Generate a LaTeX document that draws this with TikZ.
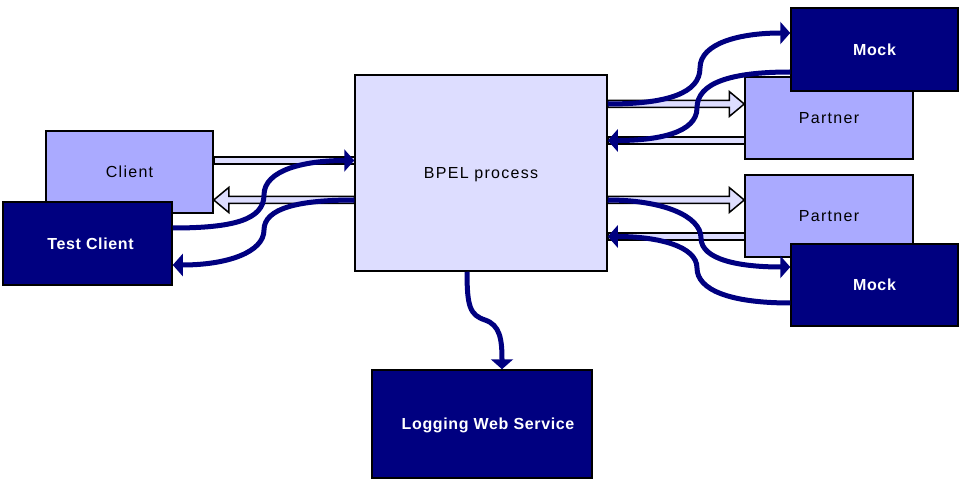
\documentclass[tikz,border=0pt]{standalone}
\usepackage{fontspec}
\setmainfont{Liberation Sans}[LetterSpace=8]
\usetikzlibrary{arrows.meta,calc}
\definecolor{navyblue}{HTML}{000080}
\definecolor{lilac}{HTML}{AAAAFF}
\definecolor{lavender}{HTML}{DDDDFF}
\tikzset{
  box/.style={draw=black, line width=1.5pt, inner sep=0pt, text height=11.5pt, text depth=0pt,
    font=\fontsize{16}{19}\selectfont},
  light/.style={box, fill=lilac},
  dark/.style={box, fill=navyblue, text=white,
    font=\fontsize{16}{19}\selectfont\bfseries\addfontfeatures{LetterSpace=4}},
  hollow/.style={draw=black, line width=1.5pt, fill=lavender},
  call/.style={draw=navyblue, line width=5pt, -{Triangle[length=10pt,width=22pt]}},
}
\newcommand\hollowarrow[2]{%
  \draw[hollow] let \p1=#1, \p2=#2, \n1={sign(\x2-\x1)} in
    ({\x1},{\y1+3.5pt}) -- ({\x2-15pt*\n1},{\y1+3.5pt}) -- ({\x2-15pt*\n1},{\y1+12.5pt})
    -- ({\x2},{\y1}) -- ({\x2-15pt*\n1},{\y1-12.5pt}) -- ({\x2-15pt*\n1},{\y1-3.5pt})
    -- ({\x1},{\y1-3.5pt}) -- cycle;}
\newcommand\hollowshaft[2]{%
  \draw[hollow] let \p1=#1, \p2=#2 in
    ({\x1},{\y1-3.5pt}) rectangle ({\x2},{\y1+3.5pt});}
\begin{document}
\begin{tikzpicture}[x=1pt, y=-1pt]
      \useasboundingbox (0,0) rectangle (971,486);
      \node[light, minimum width=167pt, minimum height=82pt] (client) at (129.5,172) {Client};
      \node[dark, minimum width=169pt, minimum height=83pt] (testclient) at (87.5,243.5) {\hspace{6pt}Test Client};
      \node[box, fill=lavender, minimum width=252pt, minimum height=196pt] (bpel) at (481,173) {BPEL process};
      \node[light, minimum width=168pt, minimum height=82pt] (partnertop) at (829,118) {Partner};
      \node[dark, minimum width=167pt, minimum height=83pt] (mocktop) at (874.5,49.5) {Mock};
      \node[light, minimum width=168pt, minimum height=82pt] (partnerbot) at (829,216) {Partner};
      \node[dark, minimum width=167pt, minimum height=82pt] (mockbot) at (874.5,285) {Mock};
      \node[dark, minimum width=220pt, minimum height=108pt] (logging) at (482,424) {\hspace{12pt}Logging Web Service};
      \coordinate (a1) at ($(client.east)+(0,-11.5)$);
      \coordinate (a2) at ($(client.east)+(0,28)$);
      \coordinate (b1) at ($(partnertop.west)+(0,-14)$);
      \coordinate (b2) at ($(partnertop.west)+(0,22.5)$);
      \coordinate (c1) at ($(partnerbot.west)+(0,-16)$);
      \coordinate (c2) at ($(partnerbot.west)+(0,20.5)$);
      \hollowshaft{(a1)}{(bpel.west |- a1)}
      \hollowarrow{(bpel.west |- a2)}{(a2)}
      \hollowarrow{(bpel.east |- b1)}{(b1)}
      \hollowshaft{(b2)}{(bpel.east |- b2)}
      \hollowarrow{(bpel.east |- c1)}{(c1)}
      \hollowshaft{(c2)}{(bpel.east |- c2)}
      \begin{scope}[call]
        \draw ($(testclient.east)+(0,-15.5)$) .. controls +(60,0) and +(0,25) .. (264,195)
          .. controls +(0,-25) and +(-50,0) .. (bpel.west |- a1);
        \draw (bpel.west |- a2) .. controls +(-55,0) and +(0,-22) .. (264,230)
          .. controls +(0,22) and +(55,0) .. ($(testclient.east)+(0,21.5)$);
        \draw (bpel.east |- b1) .. controls +(60,0) and +(0,25) .. (700,68)
          .. controls +(0,-25) and +(-50,0) .. ($(mocktop.west)+(0,-16.5)$);
        \draw ($(mocktop.west)+(0,22.5)$) .. controls +(-60,0) and +(0,-25) .. (697,108)
          .. controls +(0,25) and +(50,0) .. (bpel.east |- b2);
        \draw (bpel.east |- c1) .. controls +(55,0) and +(0,-22) .. (701,238)
          .. controls +(0,22) and +(-50,0) .. ($(mockbot.west)+(0,-18)$);
        \draw ($(mockbot.west)+(0,18)$) .. controls +(-60,0) and +(0,22) .. (697,268)
          .. controls +(0,-22) and +(50,0) .. (bpel.east |- c2);
        \draw ($(bpel.south)+(-14,0)$) .. controls +(0,35) and +(-15,-5) .. (485,320)
          .. controls +(15,5) and +(0,-30) .. ($(logging.north)+(20,0)$);
      \end{scope}
    \end{tikzpicture}
\end{document}
